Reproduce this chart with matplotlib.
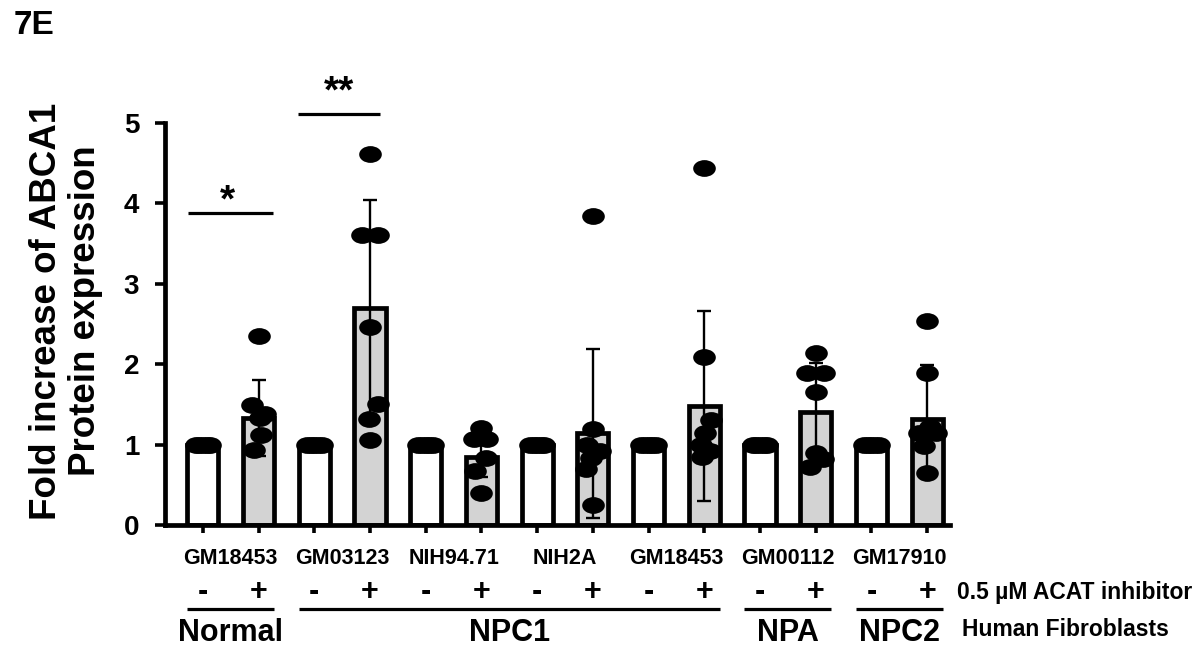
import numpy as np
import matplotlib
matplotlib.use("Agg")
import matplotlib.pyplot as plt
from matplotlib.path import Path
from matplotlib.transforms import Affine2D, blended_transform_factory

plt.rcParams['font.family'] = ['Liberation Sans', 'DejaVu Sans']
plt.rcParams['font.weight'] = 'bold'

# ---------------- data ----------------
cell_lines = ['GM18453', 'GM03123', 'NIH94.71', 'NIH2A', 'GM18453', 'GM00112', 'GM17910']
treatment = ['-', '+'] * 7
groups = ['Normal', 'NPC1', 'NPA', 'NPC2']
group_first = [0, 2, 10, 12]
group_last = [1, 9, 11, 13]

bar_means = [1, 1.33, 1, 2.70, 1, 0.85, 1, 1.14, 1, 1.48, 1, 1.41, 1, 1.32]
bar_sd = [0, 0.47, 0, 1.34, 0, 0.25, 0, 1.05, 0, 1.18, 0, 0.60, 0, 0.67]

ctrl_vals = [1, 1, 1, 1, 1]
ctrl_dx = [-0.13, -0.065, 0, 0.065, 0.13]

pts_normal = [2.35, 1.49, 1.38, 1.33, 1.12, 0.93]
dx_normal = [0, -0.12, 0.12, 0.02, 0.04, -0.09]
pts_gm03123 = [4.62, 3.61, 3.61, 2.46, 1.50, 1.32, 1.06]
dx_gm03123 = [0, -0.14, 0.14, 0, 0.15, -0.02, 0]
pts_nih9471 = [1.21, 1.07, 1.07, 0.83, 0.67, 0.40]
dx_nih9471 = [0, -0.13, 0.10, 0.08, -0.12, 0]
pts_nih2a = [3.84, 1.20, 1.00, 0.92, 0.83, 0.70, 0.25]
dx_nih2a = [0, 0, -0.10, 0.12, -0.04, -0.12, 0]
pts_gm18453 = [4.44, 2.09, 1.30, 1.15, 1.00, 0.92, 0.85]
dx_gm18453 = [0, 0, 0.12, 0.02, -0.06, 0.10, -0.05]
pts_gm00112 = [2.14, 1.89, 1.89, 1.66, 0.89, 0.82, 0.72]
dx_gm00112 = [0, -0.15, 0.15, 0, 0, 0.13, -0.10]
pts_gm17910 = [2.54, 1.89, 1.15, 1.15, 1.22, 0.98, 0.65]
dx_gm17910 = [0, 0, -0.14, 0.16, 0.05, -0.05, 0]

treated_pts = [pts_normal, pts_gm03123, pts_nih9471, pts_nih2a, pts_gm18453, pts_gm00112, pts_gm17910]
treated_dx = [dx_normal, dx_gm03123, dx_nih9471, dx_nih2a, dx_gm18453, dx_gm00112, dx_gm17910]

# ---------------- figure ----------------
W, H = 1201, 647
fig = plt.figure(figsize=(W / 100, H / 100), dpi=100)
ax = fig.add_axes([165 / W, 1 - 525 / H, 785 / W, (525 - 123) / H])
ax.set_xlim(-0.68, 13.41)
ax.set_ylim(0, 5)

x = np.arange(len(treatment))
colors = ['white' if t == '-' else '#d3d3d3' for t in treatment]
ax.bar(x, bar_means, width=0.56, color=colors, edgecolor='black', linewidth=3.4, zorder=2)

for i in range(len(x)):
    if bar_sd[i] > 0:
        ax.errorbar(x[i], bar_means[i], yerr=bar_sd[i], fmt='none', ecolor='black',
                    elinewidth=1.7, capsize=4.8, capthick=1.7, zorder=3, clip_on=False)

ellipse = Path.unit_circle().transformed(Affine2D().scale(1.35, 1.0))
for k in range(7):
    xc = x[2 * k]
    ax.plot(xc + np.array(ctrl_dx), ctrl_vals, linestyle='none', marker=ellipse,
            markersize=16.3, color='black', markeredgewidth=0, zorder=4, clip_on=False)
    xt = x[2 * k + 1]
    ax.plot(xt + np.array(treated_dx[k]), treated_pts[k], linestyle='none', marker=ellipse,
            markersize=16.3, color='black', markeredgewidth=0, zorder=4, clip_on=False)

for s in ['top', 'right']:
    ax.spines[s].set_visible(False)
for s in ['left', 'bottom']:
    ax.spines[s].set_linewidth(3.4)
    ax.spines[s].set_zorder(5)

ax.set_yticks([0, 1, 2, 3, 4, 5])
ax.tick_params(axis='y', length=7.5, width=2.6, labelsize=20, pad=11)
ax.set_xticks(x)
ax.set_xticklabels([''] * len(x))
ax.tick_params(axis='x', length=6, width=2.6)

def fy(p):
    return 1 - p / H

fig.text(66 / W, fy(311), 'Fold increase of ABCA1\nProtein expression', rotation=90,
         ha='center', va='center', multialignment='center', fontsize=26.5,
         fontweight='bold', linespacing=1.12)

tr = blended_transform_factory(ax.transData, fig.transFigure)

for k, name in enumerate(cell_lines):
    ax.text((x[2 * k] + x[2 * k + 1]) / 2, fy(559), name, transform=tr, ha='center', va='center',
            fontsize=15.5, fontweight='bold')
for i, t in enumerate(treatment):
    ax.text(x[i], fy(592), t, transform=tr, ha='center', va='center', fontsize=22, fontweight='bold')
for g, a, b in zip(groups, group_first, group_last):
    ax.plot([x[a] - 0.28, x[b] + 0.28], [fy(609), fy(609)], transform=tr, color='black',
            linewidth=2.3, clip_on=False, solid_capstyle='butt')
    ax.text((x[a] + x[b]) / 2, fy(633), g, transform=tr, ha='center', va='center',
            fontsize=22, fontweight='bold')

fig.text(957 / W, fy(592), '0.5 µM ACAT inhibitor', ha='left', va='center', fontsize=16.5, fontweight='bold')
fig.text(962 / W, fy(630), 'Human Fibroblasts', ha='left', va='center', fontsize=16.5, fontweight='bold')
fig.text(14 / W, fy(26), '7E', ha='left', va='center', fontsize=24, fontweight='bold')

# significance bars
ax.plot([x[0] - 0.27, x[1] + 0.25], [3.88, 3.88], color='black', linewidth=2.3, clip_on=False,
        solid_capstyle='butt')
ax.text((x[0] + x[1]) / 2 - 0.05, fy(201), '*', transform=tr, ha='center', va='center',
        fontsize=28, fontweight='bold')
ax.plot([x[2] - 0.3, x[3] + 0.18], [5.11, 5.11], color='black', linewidth=2.3, clip_on=False,
        solid_capstyle='butt')
ax.text(2.44, fy(92), '**', transform=tr, ha='center', va='center', fontsize=28, fontweight='bold')

fig.savefig('out.png', dpi=100)
